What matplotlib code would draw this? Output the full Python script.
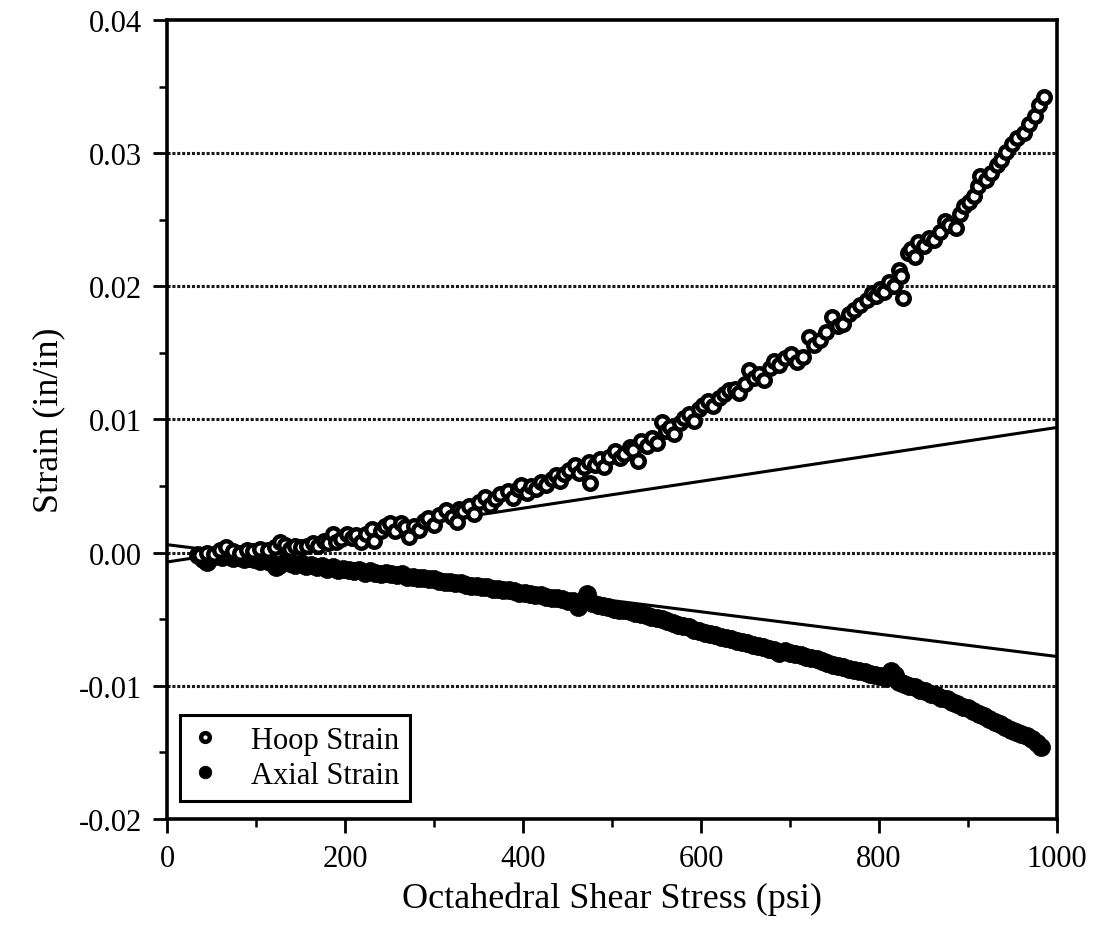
import numpy as np
import matplotlib
matplotlib.use('Agg')
import matplotlib.pyplot as plt
from matplotlib.ticker import MultipleLocator

# ── Data ─────────────────────────────────────────────────────────────────────
hoop_x = [37, 45, 53, 60, 66, 74, 82, 90, 97, 105, 113, 121, 127, 133, 138,
          144, 150, 157, 164, 170, 176, 181, 186, 190, 196, 202, 208, 212,
          218, 224, 230, 233, 240, 245, 250, 256, 263, 267, 272, 278, 283,
          289, 293, 300, 306, 314, 320, 326, 328, 333, 339, 345, 351, 357,
          363, 368, 374, 383, 389, 394, 398, 404, 409, 415, 420, 426, 432,
          437, 442, 446, 452, 458, 463, 469, 474, 475, 481, 486, 491, 497,
          503, 509, 514, 520, 524, 529, 533, 539, 545, 550, 556, 561, 565,
          570, 576, 581, 586, 592, 598, 602, 608, 614, 620, 626, 631, 638,
          643, 649, 654, 660, 665, 671, 677, 682, 688, 694, 701, 708, 715,
          721, 727, 734, 740, 747, 754, 760, 766, 772, 779, 786, 792, 797,
          801, 806, 811, 817, 823, 825, 827, 833, 836, 840, 844, 850, 856,
          862, 868, 874, 879, 887, 891, 895, 901, 907, 911, 914, 920, 926,
          932, 937, 943, 949, 955, 963, 969, 975, 980, 985]
hoop_y = [-0.0002, 0.0000, -0.0001, 0.0002, 0.0004, 0.0001, 0.0000, 0.0002,
          0.0001, 0.0003, 0.0002, 0.0004, 0.0008, 0.0006, 0.0003, 0.0005,
          0.0004, 0.0005, 0.0007, 0.0005, 0.0009, 0.0007, 0.0014, 0.0008,
          0.0010, 0.0014, 0.0011, 0.0013, 0.0008, 0.0014, 0.0018, 0.0009,
          0.0016, 0.0020, 0.0022, 0.0016, 0.0022, 0.0019, 0.0012, 0.0020,
          0.0017, 0.0024, 0.0026, 0.0021, 0.0028, 0.0032, 0.0027, 0.0023,
          0.0033, 0.0031, 0.0035, 0.0029, 0.0038, 0.0042, 0.0036, 0.0040,
          0.0044, 0.0046, 0.0041, 0.0048, 0.0051, 0.0045, 0.0050, 0.0048,
          0.0053, 0.0051, 0.0055, 0.0058, 0.0054, 0.0059, 0.0062, 0.0066,
          0.0060, 0.0064, 0.0068, 0.0052, 0.0066, 0.0070, 0.0064, 0.0072,
          0.0076, 0.0071, 0.0074, 0.0079, 0.0077, 0.0069, 0.0084, 0.0080,
          0.0086, 0.0082, 0.0098, 0.0091, 0.0094, 0.0089, 0.0097, 0.0101,
          0.0104, 0.0099, 0.0108, 0.0111, 0.0114, 0.0110, 0.0116, 0.0119,
          0.0122, 0.0123, 0.0120, 0.0127, 0.0137, 0.0131, 0.0134, 0.0130,
          0.0139, 0.0144, 0.0141, 0.0146, 0.0149, 0.0143, 0.0147, 0.0162,
          0.0156, 0.0160, 0.0166, 0.0177, 0.0170, 0.0172, 0.0179, 0.0182,
          0.0186, 0.0190, 0.0195, 0.0193, 0.0198, 0.0196, 0.0203, 0.0200,
          0.0212, 0.0208, 0.0191, 0.0225, 0.0228, 0.0222, 0.0233, 0.0230,
          0.0236, 0.0235, 0.0241, 0.0249, 0.0246, 0.0244, 0.0254, 0.0260,
          0.0263, 0.0268, 0.0275, 0.0283, 0.0280, 0.0285, 0.0291, 0.0295,
          0.0301, 0.0307, 0.0311, 0.0315, 0.0322, 0.0328, 0.0336, 0.0342]

axial_x = [35, 40, 45, 50, 56, 62, 68, 74, 80, 86, 92, 98, 104, 110, 116,
           122, 126, 132, 138, 144, 150, 156, 162, 168, 174, 180, 186, 192,
           198, 204, 210, 216, 222, 228, 234, 240, 246, 252, 258, 264, 270,
           276, 282, 288, 294, 300, 306, 312, 318, 324, 330, 336, 342, 348,
           354, 360, 366, 372, 378, 384, 390, 396, 402, 408, 414, 420, 426,
           432, 438, 444, 450, 456, 462, 466, 472, 478, 484, 490, 496, 502,
           508, 514, 520, 526, 532, 538, 544, 550, 556, 562, 568, 574, 580,
           586, 592, 598, 604, 610, 616, 622, 628, 634, 640, 646, 652, 658,
           664, 670, 676, 682, 688, 694, 700, 706, 712, 718, 724, 730, 736,
           742, 748, 754, 760, 766, 772, 778, 784, 790, 796, 802, 808, 814,
           818, 822, 828, 834, 840, 846, 852, 858, 864, 870, 876, 882, 888,
           894, 900, 906, 912, 918, 924, 930, 936, 942, 948, 954, 960, 966,
           972, 978, 982]
axial_y = [-0.0002, -0.0005, -0.0007, -0.0003, -0.0002, -0.0003, -0.0002,
           -0.0004, -0.0003, -0.0005, -0.0004, -0.0005, -0.0006, -0.0005,
           -0.0007, -0.0011, -0.0009, -0.0007, -0.0008, -0.0009, -0.0008,
           -0.0010, -0.0009, -0.0011, -0.0010, -0.0012, -0.0011, -0.0013,
           -0.0012, -0.0013, -0.0014, -0.0013, -0.0015, -0.0014, -0.0015,
           -0.0016, -0.0015, -0.0016, -0.0017, -0.0016, -0.0018, -0.0018,
           -0.0019, -0.0019, -0.0020, -0.0020, -0.0021, -0.0022, -0.0022,
           -0.0023, -0.0023, -0.0024, -0.0025, -0.0025, -0.0026, -0.0026,
           -0.0027, -0.0027, -0.0028, -0.0028, -0.0029, -0.0030, -0.0030,
           -0.0031, -0.0032, -0.0032, -0.0033, -0.0034, -0.0034, -0.0035,
           -0.0036, -0.0036, -0.0041, -0.0036, -0.0031, -0.0038, -0.0039,
           -0.0040, -0.0041, -0.0042, -0.0043, -0.0043, -0.0044, -0.0045,
           -0.0046, -0.0047, -0.0048, -0.0049, -0.0050, -0.0051, -0.0053,
           -0.0054, -0.0055, -0.0056, -0.0058, -0.0059, -0.0060, -0.0061,
           -0.0062, -0.0063, -0.0064, -0.0065, -0.0066, -0.0067, -0.0068,
           -0.0069, -0.0070, -0.0071, -0.0072, -0.0073, -0.0075, -0.0074,
           -0.0075, -0.0076, -0.0077, -0.0078, -0.0079, -0.0080, -0.0081,
           -0.0083, -0.0084, -0.0085, -0.0086, -0.0087, -0.0088, -0.0089,
           -0.0090, -0.0091, -0.0092, -0.0093, -0.0094, -0.0089, -0.0092,
           -0.0097, -0.0099, -0.0100, -0.0101, -0.0103, -0.0104, -0.0106,
           -0.0107, -0.0109, -0.0110, -0.0112, -0.0114, -0.0116, -0.0117,
           -0.0119, -0.0121, -0.0123, -0.0125, -0.0127, -0.0129, -0.0131,
           -0.0133, -0.0135, -0.0136, -0.0138, -0.0140, -0.0143, -0.0146]

# linear-elastic reference lines (end points)
hoop_fit_x = [0, 1000]
hoop_fit_y = [-0.0007, 0.0094]
axial_fit_x = [0, 1000]
axial_fit_y = [0.0006, -0.0078]

grid_levels = [-0.01, 0.0, 0.01, 0.02, 0.03]

# ── Figure ───────────────────────────────────────────────────────────────────
plt.rcParams['font.family'] = ['Liberation Serif', 'DejaVu Serif']

fig = plt.figure(figsize=(10.99, 9.28), dpi=100, facecolor='white')
ax = fig.add_axes([0.152, 0.1164, 0.8098, 0.861])

for g in grid_levels:
    ax.axhline(g, color='#1a1a1a', lw=2.2, ls=(0, (1, 0.6)), zorder=1)

ax.plot(hoop_fit_x, hoop_fit_y, color='black', lw=2.2, zorder=2)
ax.plot(axial_fit_x, axial_fit_y, color='black', lw=2.2, zorder=2)

ax.plot(axial_x, axial_y, ls='none', marker='o', ms=13,
        mfc='black', mec='black', mew=0.5, zorder=3, label='Axial Strain')
ax.plot(hoop_x, hoop_y, ls='none', marker='o', ms=9.0,
        mfc='white', mec='black', mew=3.2, zorder=4, label='Hoop Strain')

ax.set_xlim(0, 1000)
ax.set_ylim(-0.02, 0.04)
ax.xaxis.set_major_locator(MultipleLocator(200))
ax.xaxis.set_minor_locator(MultipleLocator(100))
ax.yaxis.set_major_locator(MultipleLocator(0.01))
ax.yaxis.set_minor_locator(MultipleLocator(0.005))
ax.yaxis.set_major_formatter(plt.FuncFormatter(lambda v, p: f'{v:.2f}'))

ax.tick_params(which='major', direction='out', length=10, width=2.0,
               labelsize=22, pad=8)
ax.tick_params(which='minor', direction='out', length=6, width=1.8)
for s in ax.spines.values():
    s.set_linewidth(2.6)

ax.set_xlabel('Octahedral Shear Stress (psi)', fontsize=26, labelpad=6)
ax.set_ylabel('Strain (in/in)', fontsize=26, labelpad=10)

handles, labels = ax.get_legend_handles_labels()
leg = ax.legend(handles[::-1], labels[::-1], loc='upper left',
                bbox_to_anchor=(0.014, 0.13), borderaxespad=0,
                fontsize=22, fancybox=False, framealpha=1,
                edgecolor='black', handlelength=1.0, handletextpad=1.0,
                borderpad=0.35, labelspacing=0.2, markerscale=0.7)
leg.get_frame().set_linewidth(2.2)

plt.savefig('out.png', dpi=100, facecolor='white')
